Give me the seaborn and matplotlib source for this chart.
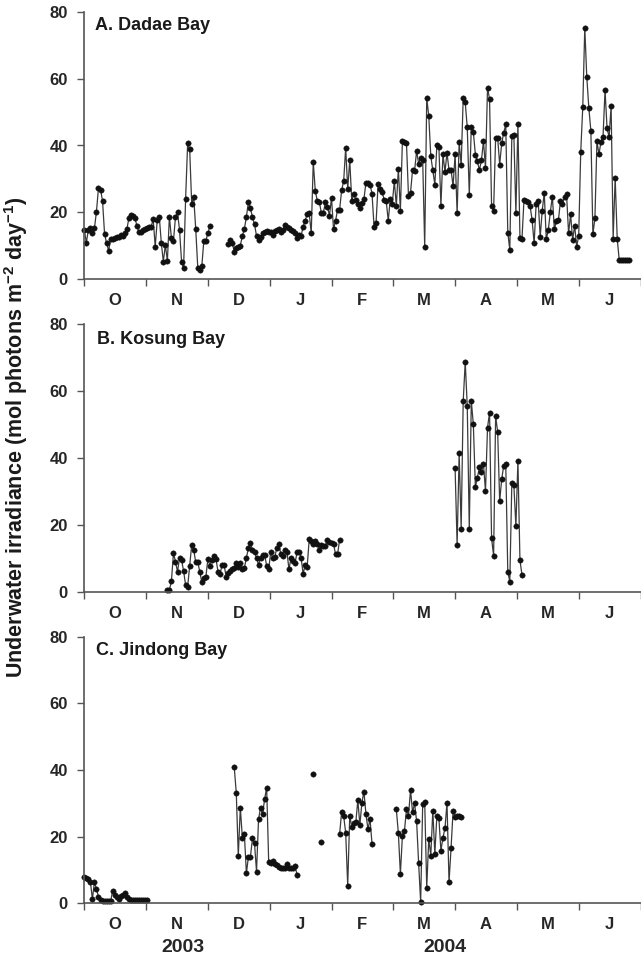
import numpy as np
import pandas as pd
import matplotlib
matplotlib.use("Agg")
import matplotlib.pyplot as plt
import seaborn as sns

# ---------------- data (day index counted from 1 Oct 2003, months drawn equal width) -------------
months = ["O", "N", "D", "J", "F", "M", "A", "M", "J"]
year_labels = ["2003", "2004"]

# Panel A: Dadae Bay
dadae_start = [0, 71]
dadae_vals = [
    [14.7, 10.9, 14.7, 15.2, 13.7, 15.2, 20.2, 27.3, 26.8, 23.4,
     13.5, 10.7, 8.5, 11.9, 12.0, 12.2, 12.5, 12.7, 13.2, 12.9,
     13.7, 14.9, 18.2, 19.2, 18.9, 18.2, 15.9, 14.0, 14.2, 14.7,
     14.9, 15.2, 15.5, 15.7, 17.9, 9.7, 17.7, 18.7, 10.9, 5.2,
     10.2, 5.4, 18.7, 12.2, 11.5, 18.5, 20.0, 14.7, 5.2, 3.2,
     24.0, 40.6, 39.0, 22.5, 24.5, 14.9, 3.4, 2.7, 3.9, 11.5,
     11.5, 13.7, 15.9],
    [10.5, 11.7, 10.9, 8.2, 9.2, 9.7, 10.0, 12.9, 14.9, 18.7,
     23.0, 21.2, 18.5, 16.4, 12.9, 11.7, 12.5, 13.7, 14.2, 14.5,
     14.2, 14.0, 13.2, 14.5, 14.7, 15.0, 14.2, 14.7, 16.1, 15.5,
     15.2, 14.7, 14.5, 13.7, 12.4, 13.2, 12.9, 15.7, 17.4, 19.4,
     19.7, 13.7,
     35.1, 26.4, 23.4, 23.2, 19.7, 19.9, 23.0, 21.7, 19.0, 24.4,
     14.9, 17.5, 20.7, 20.7, 26.6, 29.3, 39.3, 26.9, 35.6, 23.4,
     25.6, 23.7, 22.5, 21.2, 22.7, 24.0, 28.8, 28.8, 28.3, 25.6,
     15.7, 16.9, 28.6, 27.1, 26.1, 23.7, 23.4, 17.5, 23.9, 22.5,
     29.4, 21.9, 33.1, 20.5, 41.4, 41.1, 40.8, 24.8, 25.9, 32.6,
     32.4, 38.3, 34.6, 36.3, 35.8, 9.7, 54.1, 48.9, 36.8, 32.6,
     28.3, 40.1, 39.6, 21.9, 37.4, 32.1, 37.8,
     32.6, 32.8, 27.8, 37.4, 19.7, 40.9, 34.1, 54.3, 52.9, 45.4,
     25.1, 45.6, 44.1, 37.3, 35.3, 32.6, 35.6, 41.3, 33.3, 57.3,
     53.9, 21.9, 20.5, 42.3, 42.3, 34.3, 40.7, 43.8, 46.3, 13.9,
     8.7, 42.9, 43.1, 19.7, 46.5, 12.4, 11.9, 23.8, 23.4, 23.1,
     21.9, 17.7, 10.7, 22.5, 23.4, 12.6, 20.5, 25.8, 11.9, 14.7,
     20.1, 24.7, 14.9, 17.5, 17.7, 23.4, 22.5, 24.5, 25.4, 13.7,
     19.4, 11.7, 16.0, 9.7, 12.9, 38.1, 51.4, 75.3, 60.4, 51.3,
     44.4, 13.4, 18.2, 41.3, 37.4, 41.1, 42.6, 56.6, 45.1, 42.6,
     51.8, 12.1, 30.4, 12.1, 5.7, 5.7, 5.7, 5.7, 5.7, 5.7],
]

# Panel B: Kosung Bay
kosung_start = [41, 183]
kosung_vals = [
    [0.5, 0.5, 3.2, 11.5, 9.0, 6.0, 10.0, 9.5, 6.2, 2.0,
     1.5, 7.7, 14.0, 12.5, 8.8, 8.8, 6.0, 2.8, 4.0, 4.5,
     9.8, 7.8, 9.5, 10.8, 9.7, 6.0, 5.3, 8.0, 8.0, 4.5,
     5.5, 6.2, 6.7, 7.0, 8.7, 7.5, 8.5, 6.8, 7.0, 10.2,
     13.0, 14.5, 12.5, 11.8, 10.2, 8.0, 10.2, 11.0, 11.0, 7.8,
     6.7, 11.8, 10.2, 10.5, 13.0, 14.2, 11.3, 10.8, 12.5, 12.0,
     6.7, 10.0, 9.2, 8.5, 11.8, 12.0, 10.2, 5.3, 8.0, 7.5,
     15.7, 15.3, 14.2, 15.3, 14.3, 12.5, 14.0, 13.8, 13.7, 15.5,
     15.0, 14.5, 14.2, 11.3, 11.3, 15.5],
    [36.9, 14.0, 41.4, 18.9, 57.0, 68.8, 55.5, 18.7, 57.0, 50.1,
     31.4, 34.1, 37.2, 35.7, 38.2, 30.1, 49.1, 53.6, 16.0, 10.8,
     52.5, 47.9, 27.1, 33.7, 37.7, 38.2, 6.0, 3.0, 32.6, 31.9,
     19.6, 39.1, 9.5, 5.0],
]

# Panel C: Jindong Bay
jindong_start = [0, 74, 113, 117, 126, 154]
jindong_vals = [
    [8.0, 7.7, 7.4, 6.5, 1.2, 6.5, 4.2, 2.0, 1.0, 0.8,
     0.7, 0.7, 0.7, 0.7, 3.7, 2.5, 1.8, 1.3, 2.2, 2.5,
     3.0, 2.0, 1.2, 1.0, 1.0, 1.0, 1.0, 1.0, 1.0, 1.0,
     1.0, 1.0],
    [40.8, 33.2, 14.2, 28.7, 19.7, 20.7, 9.0, 14.0, 14.0, 19.5,
     18.0, 9.5, 25.3, 28.7, 26.7, 31.3, 34.7, 12.5, 12.0, 12.8,
     11.8, 11.5, 11.0, 10.5, 10.7, 10.5, 11.7, 10.7, 10.7, 10.7,
     11.3, 8.5],
    [38.8],
    [18.3],
    [20.8, 27.3, 26.2, 21.2, 5.3, 26.2, 23.0, 24.0, 24.3, 31.0,
     23.5, 30.2, 33.5, 26.8, 22.2, 25.3, 17.8],
    [28.2, 21.0, 8.8, 20.3, 21.7, 28.2, 26.3, 34.0, 27.3, 30.0,
     24.7, 12.0, 0.4, 29.7, 30.4, 4.7, 19.3, 14.3, 27.8, 14.8,
     26.3, 25.5, 15.8, 19.7, 22.5, 30.2, 6.3, 16.5, 27.7, 26.0,
     26.3, 26.2, 26.0],
]

titles = ["A. Dadae Bay", "B. Kosung Bay", "C. Jindong Bay"]
panels = [(dadae_start, dadae_vals), (kosung_start, kosung_vals), (jindong_start, jindong_vals)]


def build_frame(starts, vals):
    rows = []
    for seg, (s, v) in enumerate(zip(starts, vals)):
        for i, val in enumerate(v):
            rows.append({"day": s + i, "value": val, "seg": seg})
    return pd.DataFrame(rows)


# ---------------- styling -------------
sns.set_style("ticks")
plt.rcParams["font.family"] = ["Liberation Sans", "DejaVu Sans"]
plt.rcParams["font.weight"] = "bold"
plt.rcParams["mathtext.fontset"] = "custom"
plt.rcParams["mathtext.rm"] = "Liberation Sans:bold"
plt.rcParams["mathtext.bf"] = "Liberation Sans:bold"
plt.rcParams["mathtext.default"] = "bf"

W, H = 641, 961
fig = plt.figure(figsize=(W / 100, H / 100), dpi=100)

month_len = 30.5
axis_col = "#555555"
left = 84.3 / W
width = 1.0 - left - 0.5 / W
panel_px = [(12, 279), (324.3, 591.7), (636.7, 903.3)]

for k, ((starts, vals), title) in enumerate(zip(panels, titles)):
    top_px, bot_px = panel_px[k]
    ax = fig.add_axes([left, 1 - bot_px / H, width, (bot_px - top_px) / H])
    df = build_frame(starts, vals)
    sns.lineplot(data=df, x="day", y="value", units="seg", estimator=None,
                 color="#3a3a3a", linewidth=0.9, marker="o", markersize=3.9,
                 markerfacecolor="#111111", markeredgecolor="#111111",
                 markeredgewidth=0.3, ax=ax, legend=False, clip_on=False)
    ax.set_xlim(0, 9 * month_len)
    ax.set_ylim(0, 80)
    ax.set_yticks([0, 20, 40, 60, 80])
    ax.set_yticklabels(["0", "20", "40", "60", "80"], fontsize=12, fontweight="bold")
    ax.set_xticks(np.arange(0, 9 * month_len + 0.1, month_len))
    ax.set_xticklabels([])
    ax.set_xticks(np.arange(month_len / 2, 9 * month_len, month_len), minor=True)
    ax.set_xticklabels(months, minor=True, fontsize=12, fontweight="bold")
    ax.tick_params(axis="x", which="major", length=5, width=1, color=axis_col, direction="out")
    ax.tick_params(axis="x", which="minor", length=0, pad=10)
    ax.tick_params(axis="y", length=5, width=1, color=axis_col, direction="out", pad=7)
    for side in ["top", "right"]:
        ax.spines[side].set_visible(False)
    for side in ["left", "bottom"]:
        ax.spines[side].set_color(axis_col)
        ax.spines[side].set_linewidth(1.2)
    ax.set_xlabel("")
    ax.set_ylabel("")
    tx = [0.019, 0.023, 0.021][k]
    ty = [0.951, 0.944, 0.950][k]
    ax.text(tx, ty, title, transform=ax.transAxes, fontsize=13, fontweight="bold",
            ha="left", va="center", color="#1a1a1a")

fig.text(16 / W, 1 - 437 / H, "Underwater irradiance (mol photons m$^{-2}$ day$^{-1}$)",
         rotation=90, ha="center", va="center", fontsize=15.5, fontweight="bold", color="#1a1a1a")
fig.text(183 / W, 1 - 948 / H, year_labels[0], ha="center", va="center", fontsize=14, fontweight="bold")
fig.text(445 / W, 1 - 948 / H, year_labels[1], ha="center", va="center", fontsize=14, fontweight="bold")

fig.savefig("out.png", dpi=100)
